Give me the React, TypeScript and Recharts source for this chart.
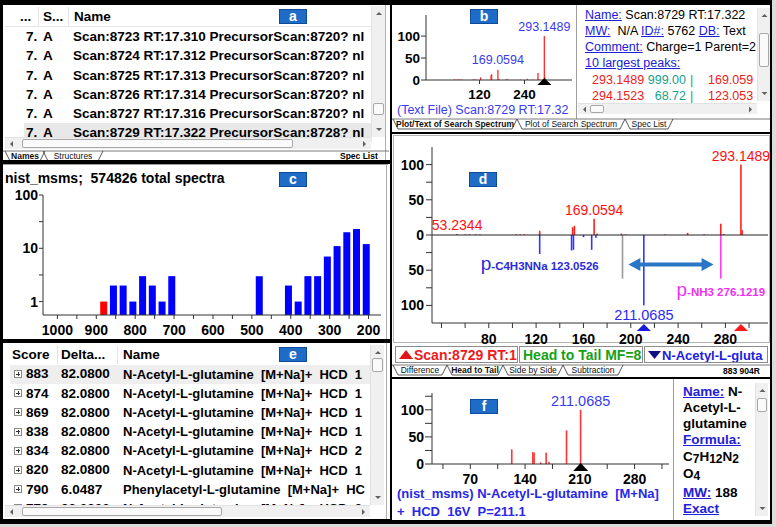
import React from 'react';
import { BarChart, Bar, XAxis, YAxis, Cell, ReferenceDot, ReferenceLine } from 'recharts';

const FONT = '"Liberation Sans", Arial, Helvetica, sans-serif';

// ---------- Panel a: spectra in the searched text file ----------
const fileRank = ['7.', '7.', '7.', '7.', '7.', '7.'];
const fileStatus = ['A', 'A', 'A', 'A', 'A', 'A'];
const fileScans = [8723, 8724, 8725, 8726, 8727, 8729];
const fileRTs = ['17.310', '17.312', '17.313', '17.314', '17.316', '17.322'];
const filePrecursors = [8720, 8720, 8720, 8720, 8720, 8728];

// ---------- Panel c: score histogram (log counts) ----------
const scoreBins = [880, 855, 830, 805, 780, 755, 730, 705, 480, 405, 380, 355, 330, 305, 280, 255, 230, 205];
const binCounts = [1, 2, 2, 1, 3, 2, 1, 3, 3, 2, 1, 3, 3, 7, 11, 20, 23, 12];
const queryScore = 883;
const histXTicks = [1000, 950, 900, 850, 800, 750, 700, 650, 600, 550, 500, 450, 400, 350, 300, 250, 200];
const histYTicks = [1, 3.162, 10, 31.62, 100];

// ---------- Panel e: hit list ----------
const hitScores = [883, 874, 869, 838, 834, 820, 790, 779];
const hitDeltas = ['82.0800', '82.0800', '82.0800', '82.0800', '82.0800', '82.0800', '6.0487', '82.0800'];
const hitNames = [
  'N-Acetyl-L-glutamine', 'N-Acetyl-L-glutamine', 'N-Acetyl-L-glutamine', 'N-Acetyl-L-glutamine',
  'N-Acetyl-L-glutamine', 'N-Acetyl-L-glutamine', 'Phenylacetyl-L-glutamine', 'N-Acetyl-L-glutamine',
];
const hitAdducts = ['[M+Na]+', '[M+Na]+', '[M+Na]+', '[M+Na]+', '[M+Na]+', '[M+Na]+', '[M+Na]+', '[M+Na]+'];
const hitInstr = ['HCD  1', 'HCD  1', 'HCD  1', 'HCD  1', 'HCD  2', 'HCD  1', 'HC', 'HCD  2'];

// ---------- Query spectrum (Scan 8729) ----------
const queryMz = [53.2344, 60.1, 63.6, 69.0, 72.6, 103.1, 106.6, 110.1, 123.05, 150.9, 152.4, 169.0594, 171.6, 192.1, 195.6, 229.1, 248.1, 262.1, 276.1219, 278.6, 293.1489, 294.1523];
const queryInt = [1.5, 0.8, 1.0, 1.0, 0.8, 1.0, 1.0, 1.0, 6, 11, 13, 23, 2, 2, 1, 1, 3, 1, 16, 1.5, 100, 6.9];
const queryPrecursor = 293.1489;
const queryLabeled = [293.1489, 169.0594, 53.2344];
const queryLabeledB = [293.1489, 169.0594];

// ---------- Library spectrum (N-Acetyl-L-glutamine [M+Na]+) ----------
const libMz = [123.0526, 150.0, 151.6, 160.1, 167.0, 170.6, 193.06, 211.0685];
const libInt = [27, 22, 21, 3, 21, 4, 62, 100];
const libPrecursor = 211.0685;
const shiftFromMz = 193.06;
const shiftToMz = 276.1219;
const lossArrow = { fromMz: 198, toMz: 270, level: -42 };

// ---------- helpers ----------
const tickBold = { fontSize: 14, fontWeight: 700, fill: '#000', fontFamily: FONT };
const tickBoldSm = { fontSize: 13.5, fontWeight: 700, fill: '#000', fontFamily: FONT };
const AX = '#333';

const stick = (color: string, w = 1.6) => (props: any) => {
  const { x, y, width, height } = props;
  if (x == null || y == null || !height) return <g />;
  const cx = x + (width || 0) / 2;
  const top = height < 0 ? y + height : y;
  return <rect x={cx - w / 2} y={top} width={w} height={Math.abs(height)} fill={color} />;
};

const peakText = (text: string, color: string, dy: number, size: number) => (props: any) => (
  <text x={props.cx} y={props.cy + dy + 0.36 * size} textAnchor="middle" fontSize={size} fill={color} fontFamily={FONT}>
    {text}
  </text>
);

const fragText = (main: string, rest: string, color: string) => (props: any) => (
  <text x={props.cx} y={props.cy + 5} textAnchor="middle" fill={color} fontFamily={FONT}>
    <tspan fontSize={19}>{main}</tspan>
    <tspan fontSize={11.5} fontWeight={700}>{rest}</tspan>
  </text>
);

const tri = (color: string, apexDy: number, baseDy: number, half: number) => (props: any) => {
  const { cx, cy } = props;
  return <polygon points={`${cx},${cy + apexDy} ${cx - half},${cy + baseDy} ${cx + half},${cy + baseDy}`} fill={color} />;
};

const doubleArrow = (color: string) => (props: any) => {
  const { x1, y1, x2, y2 } = props;
  if (x1 == null) return <g />;
  const head = 12, hw = 6.5;
  return (
    <g>
      <line x1={x1 + head - 1} y1={y1} x2={x2 - head + 1} y2={y2} stroke={color} strokeWidth={4} />
      <polygon points={`${x1},${y1} ${x1 + head},${y1 - hw} ${x1 + head},${y1 + hw}`} fill={color} />
      <polygon points={`${x2},${y2} ${x2 - head},${y2 - hw} ${x2 - head},${y2 + hw}`} fill={color} />
    </g>
  );
};

const Clip = ({ x, y, w, h, bg = '#fff', children }: any) => (
  <div style={{ position: 'absolute', left: x, top: y, width: w, height: h, overflow: 'hidden', background: bg }}>
    <div style={{ position: 'absolute', left: -x, top: -y }}>{children}</div>
  </div>
);

const Box = ({ x, y, w, h, bg = 'transparent', border = 'none' }: any) => (
  <div style={{ position: 'absolute', left: x, top: y, width: w, height: h, background: bg, border, boxSizing: 'border-box' }} />
);

const Txt = ({ x, cy, size = 13, bold = false, color = '#000', end = false, underline = false, children }: any) => (
  <div
    style={{
      position: 'absolute', left: x, top: cy - size * 0.49, fontSize: size, lineHeight: `${size}px`,
      fontWeight: bold ? 700 : 400, color, whiteSpace: 'pre', textDecoration: underline ? 'underline' : 'none',
      transform: end ? 'translateX(-100%)' : undefined, fontFamily: FONT,
    }}
  >
    {children}
  </div>
);

const Link = ({ children }: any) => <span style={{ color: '#2020d8', textDecoration: 'underline' }}>{children}</span>;

const Badge = ({ x, y, letter }: any) => (
  <div
    style={{
      position: 'absolute', left: x, top: y, width: 28, height: 15, background: '#1f6cc6', border: '1px solid #0d4c9c',
      boxSizing: 'border-box', color: '#fff', fontWeight: 700, fontSize: 14, lineHeight: '13px', textAlign: 'center', fontFamily: FONT,
    }}
  >
    {letter}
  </div>
);

const VScroll = ({ x, y, h, thumbY, thumbH, w = 14 }: any) => (
  <div style={{ position: 'absolute', left: x, top: y, width: w, height: h, background: '#f0f0f0', borderLeft: '1px solid #e2e2e2', boxSizing: 'border-box' }}>
    <svg width={w} height={h} style={{ position: 'absolute', left: 0, top: 0 }}>
      <polygon points={`${w / 2 - 3},9 ${w / 2 + 3},9 ${w / 2},6`} fill="#606060" />
      <polygon points={`${w / 2 - 3},${h - 9} ${w / 2 + 3},${h - 9} ${w / 2},${h - 6}`} fill="#606060" />
    </svg>
    <div style={{ position: 'absolute', left: 1, top: thumbY - y, width: w - 3, height: thumbH, background: '#fafafa', border: '1px solid #a8a8a8', borderRadius: 2, boxSizing: 'border-box' }} />
  </div>
);

const HScroll = ({ x, y, w, thumbX, thumbW, h = 12 }: any) => (
  <div style={{ position: 'absolute', left: x, top: y, width: w, height: h, background: '#f0f0f0', borderTop: '1px solid #e2e2e2', boxSizing: 'border-box' }}>
    <svg width={w} height={h} style={{ position: 'absolute', left: 0, top: 0 }}>
      <polygon points={`${8},${h / 2 - 3} ${8},${h / 2 + 3} ${5},${h / 2}`} fill="#606060" />
      <polygon points={`${w - 8},${h / 2 - 3} ${w - 8},${h / 2 + 3} ${w - 5},${h / 2}`} fill="#606060" />
    </svg>
    <div style={{ position: 'absolute', left: thumbX - x, top: 1, width: thumbW, height: h - 3, background: '#fafafa', border: '1px solid #a8a8a8', borderRadius: 2, boxSizing: 'border-box' }} />
  </div>
);

type TabDef = { label: string; x: number; w: number; bold?: boolean };
const TabStrip = ({ y, tabs, x0, x1, h = 10 }: { y: number; tabs: TabDef[]; x0: number; x1: number; h?: number }) => (
  <svg style={{ position: 'absolute', left: 0, top: 0, overflow: 'visible' }} width={1} height={1}>
    <line x1={x0} y1={y} x2={x1} y2={y} stroke="#7a7a7a" strokeWidth={1} />
    {tabs.map((t, i) => (
      <g key={i}>
        <path d={`M${t.x},${y} L${t.x + 5},${y + h} L${t.x + t.w - 5},${y + h} L${t.x + t.w},${y}`} fill="none" stroke="#444" strokeWidth={0.9} />
        <text x={t.x + t.w / 2} y={y + h - 2} textAnchor="middle" fontSize={8.5} fontWeight={t.bold ? 700 : 400} fontFamily={FONT} fill="#111">
          {t.label}
        </text>
      </g>
    ))}
  </svg>
);

// ---------- derived chart data ----------
const histData = scoreBins.map((s, i) => ({ score: s, count: binCounts[i] }));
const queryData = queryMz.map((m, i) => ({ mz: m, q: queryInt[i] }));
const libData = libMz.map((m, i) => ({ mz: m, v: libInt[i] }));

const headTailRows = (() => {
  const map = new Map<number, any>();
  const get = (mz: number) => {
    if (!map.has(mz)) map.set(mz, { mz, q: 0, lib: 0, unm: 0, sh: 0 });
    return map.get(mz);
  };
  queryMz.forEach((m, i) => { get(m).q = queryInt[i]; });
  libMz.forEach((m, i) => {
    if (m === shiftFromMz) get(m).unm = -libInt[i];
    else get(m).lib = -libInt[i];
  });
  get(shiftToMz).sh = -libInt[libMz.indexOf(shiftFromMz)];
  return Array.from(map.values()).sort((a, b) => a.mz - b.mz);
})();

const RED = '#ff2a2a';
const BLUE_TXT = '#3a3af0';

export default function App() {
  return (
    <div style={{ position: 'absolute', left: 0, top: 0, width: 776, height: 527, overflow: 'hidden', background: '#000', fontFamily: FONT }}>
      <Box x={772} y={0} w={4} h={527} bg="#dcdcdc" />
      <Box x={0} y={524} w={776} h={3} bg="#dcdcdc" />

      {/* ================= Panel a ================= */}
      <Clip x={3} y={5} w={387} h={155}>
        <Box x={385} y={5} w={1} h={155} bg="#b0b0b0" />
        <Txt x={20} cy={17} size={13.5} bold>...</Txt>
        <Txt x={43} cy={17} size={13.5} bold>S...</Txt>
        <Txt x={74} cy={17} size={13.5} bold>Name</Txt>
        <Box x={38} y={7} w={1} h={19} bg="#e4e4e4" />
        <Box x={68} y={7} w={1} h={19} bg="#e4e4e4" />
        <Box x={5} y={26} w={366} h={1} bg="#e6e6e6" />
        <Box x={24} y={37 + 5 * 19.1 - 9.5} w={348} h={19} bg="#e8e8e8" />
        {fileScans.map((s, i) => (
          <React.Fragment key={i}>
            <Txt x={26} cy={37 + i * 19.1} size={13.5} bold>{fileRank[i]}</Txt>
            <Txt x={43} cy={37 + i * 19.1} size={13.5} bold>{fileStatus[i]}</Txt>
            <Txt x={73} cy={37 + i * 19.1} size={13.5} bold>{`Scan:${s} RT:${fileRTs[i]} PrecursorScan:${filePrecursors[i]}? nl`}</Txt>
          </React.Fragment>
        ))}
        <Badge x={279} y={9} letter="a" />
        <VScroll x={371} y={6} h={131} thumbY={103} thumbH={12} />
        <HScroll x={5} y={137} w={366} thumbX={22} thumbW={271} />
        <TabStrip y={151} x0={3} x1={389} tabs={[{ label: 'Names', x: 5, w: 40, bold: true }, { label: 'Structures', x: 43, w: 60 }]} />
        <Txt x={340} cy={156} size={8.5} bold>Spec List</Txt>
      </Clip>

      {/* ================= Panel c ================= */}
      <Clip x={3} y={164} w={387} h={175}>
        <Box x={3} y={164} w={385} h={1} bg="#a0a0a0" />
        <Box x={386} y={164} w={1} h={175} bg="#b0b0b0" />
        <Txt x={5} cy={178} size={14} bold>nist_msms;  574826 total spectra</Txt>
        <Badge x={279} y={172} letter="c" />
        <div style={{ position: 'absolute', left: 0, top: 165 }}>
          <BarChart width={390} height={175} data={histData} margin={{ top: 30, right: 9, bottom: 3, left: 8 }}>
            <XAxis
              dataKey="score" type="number" domain={[168, 1037]} reversed allowDataOverflow ticks={histXTicks} interval={0}
              tickFormatter={(v: number) => (v % 100 === 0 ? String(v) : '')} tick={tickBold} tickSize={4} tickMargin={6}
              height={22} axisLine={{ stroke: AX }} tickLine={{ stroke: AX }}
            />
            <YAxis
              type="number" scale="log" domain={[0.56, 100]} allowDataOverflow ticks={histYTicks} interval={0}
              tickFormatter={(v: number) => (v === 1 || v === 10 || v === 100 ? String(v) : '')} tick={tickBold}
              tickSize={4} tickMargin={1} width={35} axisLine={{ stroke: AX }} tickLine={{ stroke: AX }}
            />
            <Bar dataKey="count" barSize={7} isAnimationActive={false}>
              {histData.map((d, i) => (
                <Cell key={i} fill={Math.abs(d.score - queryScore) <= 12.5 ? '#ff0000' : '#0000ff'} />
              ))}
            </Bar>
          </BarChart>
        </div>
      </Clip>

      {/* ================= Panel e ================= */}
      <Clip x={3} y={343} w={387} h={176}>
        <Box x={386} y={343} w={1} h={176} bg="#b0b0b0" />
        <Txt x={12} cy={355} size={13.5} bold>Score</Txt>
        <Txt x={61} cy={355} size={13.5} bold>Delta...</Txt>
        <Txt x={123} cy={355} size={13.5} bold>Name</Txt>
        <Box x={57} y={346} w={1} h={18} bg="#e4e4e4" />
        <Box x={117} y={346} w={1} h={18} bg="#e4e4e4" />
        <Box x={10} y={365} w={360} h={19} bg="#eeeeee" />
        {hitScores.map((s, i) => {
          const cy = 374 + i * 19.2;
          return (
            <React.Fragment key={i}>
              <div style={{ position: 'absolute', left: 14, top: cy - 4, width: 8, height: 8, border: '1px solid #8a8a8a', boxSizing: 'border-box', background: '#fff' }}>
                <div style={{ position: 'absolute', left: 1, top: 2.5, width: 4, height: 1, background: '#333' }} />
                <div style={{ position: 'absolute', left: 2.5, top: 1, width: 1, height: 4, background: '#333' }} />
              </div>
              <Txt x={26} cy={cy} size={13.5} bold>{String(s)}</Txt>
              <Txt x={61} cy={cy} size={13.5} bold>{hitDeltas[i]}</Txt>
              <Txt x={123} cy={cy} size={13} bold>{`${hitNames[i]}  ${hitAdducts[i]}  ${hitInstr[i]}`}</Txt>
            </React.Fragment>
          );
        })}
        <Badge x={279} y={347} letter="e" />
        <VScroll x={370} y={345} h={160} thumbY={358} thumbH={14} />
        <HScroll x={5} y={505} w={365} thumbX={22} thumbW={200} />
      </Clip>

      {/* ================= Panel b ================= */}
      <Clip x={392} y={5} w={378} h={127}>
        <Box x={576} y={5} w={1} h={114} bg="#a0a0a0" />
        <div style={{ position: 'absolute', left: 392, top: 5, width: 183, height: 100, overflow: 'hidden' }}>
          <BarChart width={183} height={100} data={queryData} margin={{ top: 10, right: 3, bottom: 3, left: 4 }}>
            <XAxis
              dataKey="mz" type="number" domain={[-23, 367]} allowDataOverflow ticks={[120, 240]} interval={0}
              tick={tickBoldSm} tickSize={4} tickMargin={5} height={22} axisLine={{ stroke: AX }} tickLine={{ stroke: AX }}
            />
            <YAxis
              type="number" domain={[0, 148]} allowDataOverflow ticks={[0, 50, 100]} interval={0} tick={tickBoldSm}
              tickSize={5} tickMargin={1} width={30} axisLine={{ stroke: AX }} tickLine={{ stroke: AX }}
            />
            <Bar dataKey="q" barSize={2} shape={stick(RED, 1.3)} isAnimationActive={false} />
            {queryLabeledB.map((m) => (
              <ReferenceDot key={m} x={m} y={queryInt[queryMz.indexOf(m)]} r={1} ifOverflow="visible" shape={peakText(m.toFixed(4), BLUE_TXT, -10, 12.5)} />
            ))}
            <ReferenceDot x={queryPrecursor} y={0} r={1} ifOverflow="visible" shape={tri('#000', -2, 5, 7)} />
          </BarChart>
        </div>
        <Txt x={397} cy={110} size={12.5} color={BLUE_TXT}>(Text File) Scan:8729 RT:17.32</Txt>
        <Badge x={470} y={9} letter="b" />

        <Txt x={585} cy={15} size={12.5}><Link>Name:</Link> Scan:8729 RT:17.322</Txt>
        <Txt x={585} cy={31} size={12.5}><Link>MW:</Link>  N/A <Link>ID#:</Link> 5762 <Link>DB:</Link> Text</Txt>
        <Txt x={585} cy={47} size={12.5}><Link>Comment:</Link> Charge=1 Parent=2</Txt>
        <Txt x={585} cy={63} size={12.5}><Link>10 largest peaks:</Link></Txt>
        <Txt x={592} cy={80} size={12.5} color="#ee2020">{queryMz[20].toFixed(4)}</Txt>
        <Txt x={686} cy={80} size={12.5} color="#16a08c" end>999.00</Txt>
        <Txt x={690} cy={80} size={12.5} color="#16a08c">|</Txt>
        <Txt x={708} cy={80} size={12.5} color="#ee2020">169.059</Txt>
        <Txt x={592} cy={96} size={12.5} color="#ee2020">{queryMz[21].toFixed(4)}</Txt>
        <Txt x={686} cy={96} size={12.5} color="#16a08c" end>68.72</Txt>
        <Txt x={690} cy={96} size={12.5} color="#16a08c">|</Txt>
        <Txt x={708} cy={96} size={12.5} color="#ee2020">123.053</Txt>
        <VScroll x={757} y={8} h={93} thumbY={33} thumbH={34} w={13} />
        <HScroll x={578} y={103} w={179} thumbX={590} thumbW={14} h={11} />
        <TabStrip
          y={119} x0={392} x1={770}
          tabs={[
            { label: 'Plot/Text of Search Spectrum', x: 393, w: 124, bold: true },
            { label: 'Plot of Search Spectrum', x: 517, w: 108 },
            { label: 'Spec List', x: 625, w: 48 },
          ]}
        />
      </Clip>

      {/* ================= Panel d ================= */}
      <Clip x={392} y={134} w={378} h={243}>
        <Box x={393} y={135} w={377} h={208} border="1px solid #b4b4b4" />
        <div style={{ position: 'absolute', left: 392, top: 137 }}>
          <BarChart width={378} height={210} data={headTailRows} stackOffset="sign" margin={{ top: 10, right: 2, bottom: 2, left: 6 }}>
            <XAxis
              dataKey="mz" type="number" domain={[32, 316]} allowDataOverflow
              ticks={[40, 60, 80, 100, 120, 140, 160, 180, 200, 220, 240, 260, 280, 300]} interval={0}
              tickFormatter={(v: number) => (v >= 80 && v % 40 === 0 ? String(v) : '')} tick={tickBold}
              tickSize={5} tickMargin={6} height={22} axisLine={{ stroke: AX }} tickLine={{ stroke: AX }}
            />
            <YAxis
              type="number" domain={[-125, 125]} allowDataOverflow ticks={[-100, -75, -50, -25, 0, 25, 50, 75, 100]} interval={0}
              tickFormatter={(v: number) => (v % 50 === 0 ? String(Math.abs(v)) : '')} tick={tickBold}
              tickSize={6} tickMargin={2} width={34} axisLine={{ stroke: AX }} tickLine={{ stroke: AX }}
            />
            <ReferenceLine y={0} stroke="#222" strokeWidth={1} />
            <Bar dataKey="q" stackId="s" barSize={2} shape={stick('#ff2020')} isAnimationActive={false} />
            <Bar dataKey="lib" stackId="s" barSize={2} shape={stick('#3434ff')} isAnimationActive={false} />
            <Bar dataKey="unm" stackId="s" barSize={2} shape={stick('#9a9a9a')} isAnimationActive={false} />
            <Bar dataKey="sh" stackId="s" barSize={2} shape={stick('#ff3cff')} isAnimationActive={false} />
            {queryLabeled.map((m) => (
              <ReferenceDot key={m} x={m} y={queryInt[queryMz.indexOf(m)]} r={1} ifOverflow="visible" shape={peakText(m.toFixed(4), '#ff1010', -9, 14)} />
            ))}
            <ReferenceDot x={libPrecursor} y={-100} r={1} ifOverflow="visible" shape={peakText(libPrecursor.toFixed(4), '#2a2af5', 9, 14.5)} />
            <ReferenceDot x={libMz[0]} y={lossArrow.level} r={1} ifOverflow="visible" shape={fragText('p', `-C4H3NNa ${libMz[0].toFixed(4)}`, '#2a2ad8')} />
            <ReferenceDot x={shiftToMz} y={-79} r={1} ifOverflow="visible" shape={fragText('p', `-NH3 ${shiftToMz.toFixed(4)}`, '#f030f0')} />
            <ReferenceLine
              segment={[{ x: lossArrow.fromMz, y: lossArrow.level }, { x: lossArrow.toMz, y: lossArrow.level }]}
              ifOverflow="visible" shape={doubleArrow('#2a76c6')}
            />
            <ReferenceDot x={queryPrecursor} y={-125} r={1} ifOverflow="visible" shape={tri('#ff1a1a', 1, 8, 7)} />
            <ReferenceDot x={libPrecursor} y={-125} r={1} ifOverflow="visible" shape={tri('#1a1ae0', 1, 8, 7)} />
          </BarChart>
        </div>
        <Badge x={469} y={172} letter="d" />

        <Box x={395} y={346} w={123} h={17} bg="#fff" border="1px solid #8c8c8c" />
        <Box x={519} y={346} w={124} h={17} bg="#fff" border="1px solid #8c8c8c" />
        <Box x={644} y={346} w={124} h={17} bg="#fff" border="1px solid #8c8c8c" />
        <Clip x={396} y={347} w={121} h={15}>
          <svg style={{ position: 'absolute', left: 0, top: 0, overflow: 'visible' }} width={1} height={1}>
            <polygon points="406,350 399,359 413,359" fill="#e01818" />
          </svg>
          <Txt x={414} cy={355} size={14} bold color="#ee1c1c">Scan:8729 RT:1</Txt>
        </Clip>
        <Clip x={520} y={347} w={122} h={15}>
          <Txt x={523} cy={355} size={14} bold color="#16a016">Head to Tail MF=8</Txt>
        </Clip>
        <Clip x={645} y={347} w={122} h={15}>
          <svg style={{ position: 'absolute', left: 0, top: 0, overflow: 'visible' }} width={1} height={1}>
            <polygon points="648,351 661,351 654.5,359" fill="#101080" />
          </svg>
          <Txt x={662} cy={355} size={13} bold color="#2020e0">N-Acetyl-L-gluta</Txt>
        </Clip>
        <TabStrip
          y={365} x0={392} x1={770}
          tabs={[
            { label: 'Difference', x: 393, w: 54 },
            { label: 'Head to Tail', x: 447, w: 56, bold: true },
            { label: 'Side by Side', x: 503, w: 60 },
            { label: 'Subtraction', x: 563, w: 60 },
          ]}
        />
        <Txt x={723} cy={371} size={8.5} bold>883 904R</Txt>
      </Clip>

      {/* ================= Panel f ================= */}
      <Clip x={392} y={379} w={378} h={141}>
        <Box x={673} y={379} w={1} h={141} bg="#9a9a9a" />
        <div style={{ position: 'absolute', left: 392, top: 382 }}>
          <BarChart width={281} height={106} data={libData} margin={{ top: 11, right: 4, bottom: 2, left: 6 }}>
            <XAxis
              dataKey="mz" type="number" domain={[21, 324]} allowDataOverflow ticks={[35, 70, 105, 140, 175, 210, 245, 280, 315]} interval={0}
              tickFormatter={(v: number) => (v % 70 === 0 ? String(v) : '')} tick={tickBold}
              tickSize={5} tickMargin={5} height={22} axisLine={{ stroke: AX }} tickLine={{ stroke: AX }}
            />
            <YAxis
              type="number" domain={[0, 131]} allowDataOverflow ticks={[0, 25, 50, 75, 100, 125]} interval={0}
              tickFormatter={(v: number) => (v % 50 === 0 ? String(v) : '')} tick={tickBold}
              tickSize={7} tickMargin={1} width={34} axisLine={{ stroke: AX }} tickLine={{ stroke: AX }}
            />
            <Bar dataKey="v" barSize={2} shape={stick('#ff3434')} isAnimationActive={false} />
            <ReferenceDot x={libPrecursor} y={100} r={1} ifOverflow="visible" shape={peakText(libPrecursor.toFixed(4), BLUE_TXT, -9, 14.5)} />
            <ReferenceDot x={libPrecursor} y={0} r={1} ifOverflow="visible" shape={tri('#000', -1, 7, 7.5)} />
          </BarChart>
        </div>
        <Badge x={470} y={399} letter="f" />
        <Txt x={397} cy={493} size={13} bold color="#2828e8">(nist_msms) N-Acetyl-L-glutamine  [M+Na]</Txt>
        <Txt x={397} cy={511} size={13} bold color="#2828e8">+  HCD  16V  P=211.1</Txt>

        <Txt x={683} cy={392} size={13.5} bold><Link>Name:</Link> N-</Txt>
        <Txt x={683} cy={408} size={13.5} bold>Acetyl-L-</Txt>
        <Txt x={683} cy={424} size={13.5} bold>glutamine</Txt>
        <Txt x={683} cy={440} size={13.5} bold><Link>Formula:</Link></Txt>
        <Txt x={683} cy={457} size={13.5} bold>
          C<span style={{ fontSize: 12, position: 'relative', top: 2 }}>7</span>H
          <span style={{ fontSize: 12, position: 'relative', top: 2 }}>12</span>N
          <span style={{ fontSize: 12, position: 'relative', top: 2 }}>2</span>
        </Txt>
        <Txt x={683} cy={474} size={13.5} bold>
          O<span style={{ fontSize: 12, position: 'relative', top: 2 }}>4</span>
        </Txt>
        <Txt x={683} cy={493} size={13.5} bold><Link>MW:</Link> 188</Txt>
        <Txt x={683} cy={509} size={13.5} bold><Link>Exact</Link></Txt>
        <VScroll x={755} y={383} h={133} thumbY={398} thumbH={14} w={13} />
      </Clip>
    </div>
  );
}
